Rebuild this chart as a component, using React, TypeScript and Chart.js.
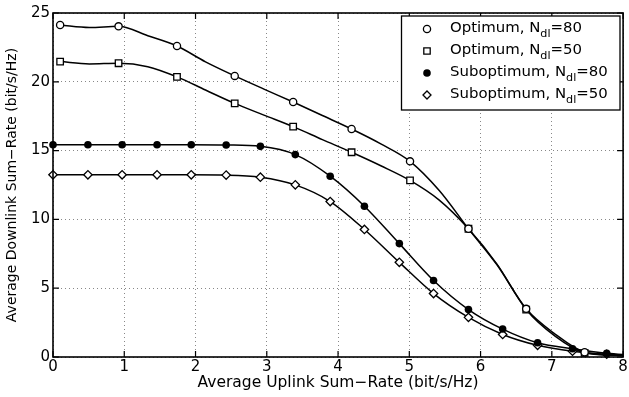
import React, { useEffect, useRef } from 'react';
import { Chart, registerables } from 'chart.js';

Chart.register(...registerables);

// ---------- data ----------
const xMin = 0;
const xMax = 8;
const yMin = 0;
const yMax = 25;
const xStep = 1;
const yStep = 5;

const xTitle = 'Average Uplink Sum\u2212Rate (bit/s/Hz)';
const yTitle = 'Average Downlink Sum\u2212Rate (bit/s/Hz)';

// Optimum curves (marker on every other sample)
const optX = [0.10, 0.51, 0.92, 1.33, 1.74, 2.14, 2.55, 2.96, 3.37, 3.78, 4.19, 4.60, 5.01, 5.42, 5.83, 6.23, 6.64, 7.05, 7.46, 7.87, 8.28];
const opt80 = [24.13, 23.95, 24.03, 23.35, 22.6, 21.45, 20.43, 19.47, 18.53, 17.55, 16.57, 15.49, 14.22, 12.1, 9.32, 6.7, 3.5, 1.65, 0.35, 0.15, 0.08];
const opt50 = [21.47, 21.3, 21.35, 21.1, 20.36, 19.4, 18.43, 17.58, 16.74, 15.8, 14.88, 13.9, 12.83, 11.4, 9.32, 6.75, 3.45, 1.5, 0.3, 0.12, 0.06];
const optMarker = [1, 0, 1, 0, 1, 0, 1, 0, 1, 0, 1, 0, 1, 0, 1, 0, 1, 0, 1, 0, 1];

// Suboptimum curves (marker on every sample)
const subX = [0, 0.49, 0.97, 1.46, 1.94, 2.43, 2.91, 3.40, 3.89, 4.37, 4.86, 5.34, 5.83, 6.31, 6.80, 7.29, 7.77, 8.26];
const sub80 = [15.43, 15.43, 15.43, 15.43, 15.43, 15.41, 15.31, 14.71, 13.14, 10.96, 8.24, 5.56, 3.45, 2.03, 1.04, 0.6, 0.27, 0.1];
const sub50 = [13.24, 13.24, 13.24, 13.24, 13.24, 13.22, 13.07, 12.51, 11.3, 9.27, 6.88, 4.61, 2.88, 1.64, 0.85, 0.42, 0.2, 0.08];

const seriesNames = ['Optimum, N', 'Optimum, N', 'Suboptimum, N', 'Suboptimum, N'];
const seriesSubs = ['dl', 'dl', 'dl', 'dl'];
const seriesSuffix = ['=80', '=50', '=80', '=50'];
const seriesMarkers = ['openCircle', 'openSquare', 'filledCircle', 'openDiamond'];

const FONT = '"DejaVu Sans", "Liberation Sans", Arial, sans-serif';

function toPoints(xs: number[], ys: number[]) {
  return xs.map((x, i) => ({ x, y: ys[i] }));
}

function drawMarker(ctx: CanvasRenderingContext2D, kind: string, x: number, y: number) {
  ctx.save();
  ctx.lineWidth = 1.3;
  ctx.strokeStyle = '#000';
  ctx.fillStyle = '#fff';
  ctx.beginPath();
  if (kind === 'openCircle') {
    ctx.arc(x, y, 3.6, 0, Math.PI * 2);
    ctx.fill();
    ctx.stroke();
  } else if (kind === 'openSquare') {
    ctx.rect(x - 3.2, y - 3.2, 6.4, 6.4);
    ctx.fill();
    ctx.stroke();
  } else if (kind === 'filledCircle') {
    ctx.arc(x, y, 3.8, 0, Math.PI * 2);
    ctx.fillStyle = '#000';
    ctx.fill();
  } else {
    ctx.moveTo(x - 4, y);
    ctx.lineTo(x, y - 4);
    ctx.lineTo(x + 4, y);
    ctx.lineTo(x, y + 4);
    ctx.closePath();
    ctx.fill();
    ctx.stroke();
  }
  ctx.restore();
}

const framePlugin = {
  id: 'matlabFrame',
  afterDraw(chart: any) {
    const ctx: CanvasRenderingContext2D = chart.ctx;
    const { left, right, top, bottom } = chart.chartArea;
    const xs = chart.scales.x;
    const ys = chart.scales.y;
    ctx.save();
    ctx.strokeStyle = '#000';
    ctx.lineWidth = 1.6;
    ctx.strokeRect(left, top, right - left, bottom - top);
    const tl = 6;
    ctx.beginPath();
    xs.ticks.forEach((t: any) => {
      const px = xs.getPixelForValue(t.value);
      ctx.moveTo(px, bottom);
      ctx.lineTo(px, bottom - tl);
      ctx.moveTo(px, top);
      ctx.lineTo(px, top + tl);
    });
    ys.ticks.forEach((t: any) => {
      const py = ys.getPixelForValue(t.value);
      ctx.moveTo(left, py);
      ctx.lineTo(left + tl, py);
      ctx.moveTo(right, py);
      ctx.lineTo(right - tl, py);
    });
    ctx.lineWidth = 1.2;
    ctx.stroke();

    // legend
    const bx = 401.5, by = 16, bw = 218.5, bh = 94;
    ctx.fillStyle = '#fff';
    ctx.fillRect(bx, by, bw, bh);
    ctx.lineWidth = 1.3;
    ctx.strokeRect(bx, by, bw, bh);
    const mainFont = `14px ${FONT}`;
    const subFont = `10.5px ${FONT}`;
    ctx.font = mainFont;
    const w0 = ctx.measureText(seriesNames[0]).width + ctx.measureText(seriesSuffix[0]).width;
    ctx.font = subFont;
    const wsub0 = ctx.measureText(seriesSubs[0]).width;
    const sx = 132 / (w0 + wsub0);
    for (let i = 0; i < 4; i++) {
      const cy = 29 + i * 22;
      drawMarker(ctx, seriesMarkers[i], 427, cy);
      ctx.save();
      ctx.translate(450, cy + 3);
      ctx.scale(sx, 1);
      ctx.fillStyle = '#000';
      ctx.textBaseline = 'alphabetic';
      ctx.font = mainFont;
      ctx.fillText(seriesNames[i], 0, 0);
      let x = ctx.measureText(seriesNames[i]).width;
      ctx.font = subFont;
      ctx.fillText(seriesSubs[i], x, 4.5);
      x += ctx.measureText(seriesSubs[i]).width;
      ctx.font = mainFont;
      ctx.fillText(seriesSuffix[i], x, 0);
      ctx.restore();
    }
    ctx.restore();
  },
};

function makeDataset(label: string, xs: number[], ys: number[], style: string, radius: number, fill: string, markerFlags: number[] | null) {
  return {
    label,
    data: toPoints(xs, ys),
    borderColor: '#000',
    borderWidth: 1.5,
    backgroundColor: fill,
    pointStyle: style,
    pointRadius: (c: any) => (markerFlags ? (markerFlags[c.dataIndex] ? radius : 0) : radius),
    pointHoverRadius: 0,
    pointBackgroundColor: fill,
    pointBorderColor: '#000',
    pointBorderWidth: style === 'circle' && fill === '#000' ? 0 : 1.3,
    cubicInterpolationMode: 'monotone' as const,
    fill: false,
    clip: { left: 6, right: 0, top: 6, bottom: 6 },
  };
}

export default function App() {
  const ref = useRef<HTMLCanvasElement | null>(null);
  useEffect(() => {
    if (!ref.current) return;
    const chart = new Chart(ref.current, {
      type: 'line',
      data: {
        datasets: [
          makeDataset(seriesNames[0] + seriesSubs[0] + seriesSuffix[0], optX, opt80, 'circle', 3.6, '#fff', optMarker),
          makeDataset(seriesNames[1] + seriesSubs[1] + seriesSuffix[1], optX, opt50, 'rect', 4.6, '#fff', optMarker),
          makeDataset(seriesNames[2] + seriesSubs[2] + seriesSuffix[2], subX, sub80, 'circle', 3.8, '#000', null),
          makeDataset(seriesNames[3] + seriesSubs[3] + seriesSuffix[3], subX, sub50, 'rectRot', 4.2, '#fff', null),
        ] as any,
      },
      options: {
        animation: false,
        responsive: false,
        devicePixelRatio: 1,
        layout: { padding: { top: 13, right: 3, left: 0, bottom: 0 } },
        plugins: { legend: { display: false }, tooltip: { enabled: false } },
        events: [],
        scales: {
          x: {
            type: 'linear',
            min: xMin,
            max: xMax,
            ticks: { stepSize: xStep, color: '#000', font: { family: FONT, size: 15 }, padding: 1, maxRotation: 0 },
            grid: { color: '#888', lineWidth: 1, drawTicks: false },
            border: { display: false, dash: [1, 3] },
            title: { display: true, text: xTitle, color: '#000', font: { family: FONT, size: 15.5 }, padding: { top: 0, bottom: 5 } },
            afterFit: (s: any) => { s.height = 40; },
          },
          y: {
            type: 'linear',
            min: yMin,
            max: yMax,
            ticks: { stepSize: yStep, color: '#000', font: { family: FONT, size: 15 }, padding: 3 },
            grid: { color: '#888', lineWidth: 1, drawTicks: false },
            border: { display: false, dash: [1, 3] },
            title: { display: true, text: yTitle, color: '#000', font: { family: FONT, size: 14 }, padding: { top: 4, bottom: 0 } },
            afterFit: (s: any) => { s.width = 53; },
          },
        },
      } as any,
      plugins: [framePlugin],
    });
    return () => chart.destroy();
  }, []);
  return (
    <div style={{ position: 'fixed', left: 0, top: 0, width: 629, height: 397, background: '#fff' }}>
      <canvas ref={ref} width={629} height={397} style={{ width: 629, height: 397, display: 'block' }} />
    </div>
  );
}
